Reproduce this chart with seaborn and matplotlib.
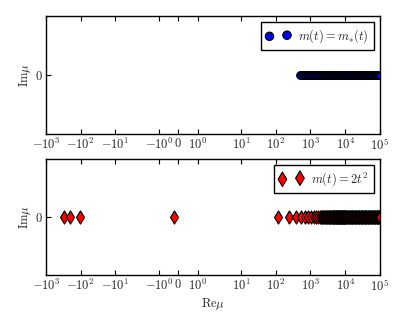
import numpy as np
import pandas as pd
import seaborn as sns
import matplotlib
matplotlib.use("Agg")
import matplotlib.pyplot as plt
from matplotlib.ticker import NullLocator

mu_star = [505, 545, 590, 640, 690, 745, 800, 860, 925, 990, 1060, 1135,
           1210, 1290, 1375, 1460, 1550, 1645, 1740, 1840, 1945, 2050, 2160,
           2275, 2390, 2510, 2635, 2760, 2890, 3025, 3160, 3300, 3445, 3590,
           3740, 3895, 4050, 4210, 4375, 4545, 4715, 4890, 5070, 5250, 5440,
           5630, 5825, 6020, 6220, 6430, 6640, 6850, 7070, 7290, 7520, 7750,
           7990, 8230, 8470, 8720, 8980, 9240, 9500, 9770,
           10000, 10400, 10800, 11250, 11700, 12150, 12650, 13150, 13700,
           14250, 14800, 15400, 16000, 16650, 17300, 18000, 18750, 19500,
           20300, 21100, 21900, 22800, 23700, 24650, 25650, 26700, 27750,
           28850, 30000, 31200, 32450, 33750, 35100, 36500, 37950, 39500,
           41050, 42700, 44400, 46200, 48050, 49950, 51950, 54050, 56200,
           58450, 60800, 63200, 65750, 68350, 71100, 73950, 76900, 80000,
           83200, 86500, 90000, 93600, 97300, 100000]
mu_2t2 = [-300, -200, -105, -0.22, 119, 245, 389, 541, 703, 875, 1055, 1245,
          1445, 1655, 1870, 1980, 2090, 2205, 2320, 2440, 2560, 2685, 2810,
          2940, 3070, 3205, 3340, 3480, 3620, 3765, 3910, 4060, 4210, 4365,
          4520, 4680, 4840, 5005, 5170, 5340, 5510, 5685, 5860, 6040, 6220,
          6405, 6590, 6780, 6970, 7165, 7360, 7560, 7760, 7965, 8170, 8380,
          8590, 8805, 9020, 9240, 9460, 9685, 9910,
          10400, 10800, 11250, 11700, 12150, 12650, 13150, 13700, 14250,
          14800, 15400, 16000, 16650, 17300, 18000, 18750, 19500, 20300,
          21100, 21900, 22800, 23700, 24650, 25650, 26700, 27750, 28850,
          30000, 31200, 32450, 33750, 35100, 36500, 37950, 39500, 41050,
          42700, 44400, 46200, 48050, 49950, 51950, 54050, 56200, 58450,
          60800, 63200, 65750, 68350, 71100, 73950, 76900, 80000, 83200,
          86500, 90000, 93600, 97300, 100000]
xticks = [-1e3, -1e2, -1e1, -1, 0, 1, 1e1, 1e2, 1e3, 1e4, 1e5]


def set_style():
    sns.set_style("ticks", {"xtick.direction": "in", "ytick.direction": "in",
                            "xtick.top": True, "ytick.right": True,
                            "axes.edgecolor": "black"})
    plt.rcParams["font.family"] = ["cmr10", "DejaVu Serif"]
    plt.rcParams["mathtext.fontset"] = "cm"
    plt.rcParams["axes.formatter.use_mathtext"] = True
    plt.rcParams["font.size"] = 9


def style_axis(ax):
    ax.set_xscale("symlog", linthresh=2, linscale=1)
    ax.set_xlim(-1e3, 1e5)
    ax.set_ylim(-1, 1)
    ax.set_xticks(xticks)
    ax.xaxis.set_minor_locator(NullLocator())
    ax.set_yticks([0])
    ax.tick_params(labelsize=9, length=3.5, width=0.8, color="black", pad=2)
    ax.set_ylabel(r"$\mathrm{Im}\mu$", fontsize=9, labelpad=2)
    for s in ax.spines.values():
        s.set_linewidth(1.0)
        s.set_color("black")


def main():
    set_style()
    fig = plt.figure(figsize=(4.2, 3.19), dpi=100)
    ax1 = fig.add_axes([0.1095, 0.580, 0.795, 0.370])
    ax2 = fig.add_axes([0.1095, 0.138, 0.795, 0.364])

    df1 = pd.DataFrame({"re": mu_star, "im": np.zeros(len(mu_star))})
    df2 = pd.DataFrame({"re": mu_2t2, "im": np.zeros(len(mu_2t2))})

    sns.scatterplot(data=df1, x="re", y="im", ax=ax1, marker="o", s=30,
                    color="#0000ff", edgecolor="black", linewidth=0.8,
                    label=r"$m(t)=m_{*}(t)$")
    sns.scatterplot(data=df2, x="re", y="im", ax=ax2, marker="d", s=45,
                    color="#ff0000", edgecolor="black", linewidth=0.8,
                    label=r"$m(t)=2t^2$")

    for ax in (ax1, ax2):
        style_axis(ax)
        ax.set_xlabel("")
        leg = ax.legend(loc="upper right", scatterpoints=2, fancybox=False,
                        edgecolor="black", framealpha=1, fontsize=9,
                        borderpad=0.4, handletextpad=0.6, markerscale=1.1)
        leg.get_frame().set_linewidth(1.0)
    ax2.set_xlabel(r"$\mathrm{Re}\mu$", fontsize=9, labelpad=2)

    fig.savefig("out.png", dpi=100)


if __name__ == "__main__":
    main()
